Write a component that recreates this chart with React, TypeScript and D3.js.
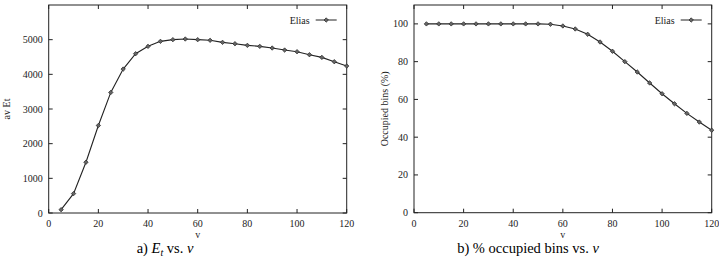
import React from "react";
import * as d3 from "d3";

const vValues = [5, 10, 15, 20, 25, 30, 35, 40, 45, 50, 55, 60, 65, 70, 75, 80, 85, 90, 95, 100, 105, 110, 115, 120];
const avEt = [96, 559, 1464, 2524, 3478, 4152, 4595, 4807, 4952, 5000, 5019, 5000, 4981, 4923, 4884, 4836, 4807, 4759, 4701, 4653, 4566, 4489, 4364, 4239];
const occupied = [100, 100, 100, 100, 100, 100, 100, 100, 100, 100, 99.8, 98.9, 97.3, 94.5, 90.4, 85.5, 80, 74.5, 68.7, 63, 57.7, 52.6, 48, 43.7];
const xTicks = [0, 20, 40, 60, 80, 100, 120];
const yTicksA = [0, 1000, 2000, 3000, 4000, 5000];
const yTicksB = [0, 20, 40, 60, 80, 100];
const seriesName = "Elias";

const FONT = "Liberation Serif, Times New Roman, DejaVu Serif, serif";
const INK = "#222";
const FS = 10;

type PanelProps = {
  x0: number; x1: number; y0: number; y1: number;
  yMax: number; yTicks: number[]; values: number[];
  yLabel: string; yLabelX: number; caption: React.ReactNode; captionX: number;
};

function Panel(p: PanelProps) {
  const x = d3.scaleLinear().domain([0, 120]).range([p.x0, p.x1]);
  const y = d3.scaleLinear().domain([0, p.yMax]).range([p.y1, p.y0]);
  const line = d3.line<number>().x((_, i) => x(vValues[i])).y((d) => y(d));
  const tl = 4;
  const s = 2.2;
  const diamond = (cx: number, cy: number, k: string) => (
    <path key={k} d={`M${cx},${cy - s}L${cx + s},${cy}L${cx},${cy + s}L${cx - s},${cy}Z`} fill="#666" stroke={INK} strokeWidth={0.7} />
  );
  const legY = 20;
  const legX1 = p.x1 - 10;
  const legX0 = legX1 - 21;
  return (
    <g>
      {xTicks.map((t) => (
        <g key={"x" + t}>
          <line x1={x(t)} x2={x(t)} y1={p.y1} y2={p.y1 - tl} stroke={INK} />
          <line x1={x(t)} x2={x(t)} y1={p.y0} y2={p.y0 + tl} stroke={INK} />
          <text x={x(t)} y={227} fontSize={FS} textAnchor="middle" fontFamily={FONT} fill={INK}>{t}</text>
        </g>
      ))}
      {p.yTicks.map((t) => (
        <g key={"y" + t}>
          <line x1={p.x0} x2={p.x0 + tl} y1={y(t)} y2={y(t)} stroke={INK} />
          <line x1={p.x1} x2={p.x1 - tl} y1={y(t)} y2={y(t)} stroke={INK} />
          <text x={p.x0 - 6} y={y(t) + 3.5} fontSize={FS} textAnchor="end" fontFamily={FONT} fill={INK}>{t}</text>
        </g>
      ))}
      <rect x={p.x0} y={p.y0} width={p.x1 - p.x0} height={p.y1 - p.y0} fill="none" stroke={INK} strokeWidth={1} />
      <path d={line(p.values) || ""} fill="none" stroke={INK} strokeWidth={1.1} />
      {p.values.map((v, i) => diamond(x(vValues[i]), y(v), "m" + i))}
      <text x={(p.x0 + p.x1) / 2} y={238} fontSize={FS} textAnchor="middle" fontFamily={FONT} fill={INK}>v</text>
      <text transform={`translate(${p.yLabelX},${(p.y0 + p.y1) / 2}) rotate(-90)`} fontSize={FS} textAnchor="middle" fontFamily={FONT} fill={INK}>{p.yLabel}</text>
      <text x={legX0 - 6} y={legY + 3.5} fontSize={FS} textAnchor="end" fontFamily={FONT} fill={INK}>{seriesName}</text>
      <line x1={legX0} x2={legX1} y1={legY} y2={legY} stroke={INK} />
      {diamond((legX0 + legX1) / 2, legY, "leg")}
      <text x={p.captionX} y={253} fontSize={14.5} textAnchor="middle" fontFamily={FONT} fill="#000">{p.caption}</text>
    </g>
  );
}

export default function App() {
  return (
    <svg width={719} height={261} style={{ position: "absolute", left: 0, top: 0, background: "#fff" }}>
      <rect width={719} height={261} fill="#fff" />
      <Panel x0={48.7} x1={346.7} y0={5} y1={213} yMax={6000} yTicks={yTicksA} values={avEt}
        yLabel="av Et" yLabelX={10} captionX={165}
        caption={<>a) <tspan fontStyle="italic">E</tspan><tspan fontStyle="italic" fontSize={10} dy={2.5}>t</tspan><tspan dy={-2.5}> vs. </tspan><tspan fontStyle="italic">v</tspan></>} />
      <Panel x0={414} x1={711.7} y0={5} y1={212.7} yMax={110} yTicks={yTicksB} values={occupied}
        yLabel="Occupied bins (%)" yLabelX={388} captionX={528}
        caption={<>b) % occupied bins vs. <tspan fontStyle="italic">v</tspan></>} />
    </svg>
  );
}
